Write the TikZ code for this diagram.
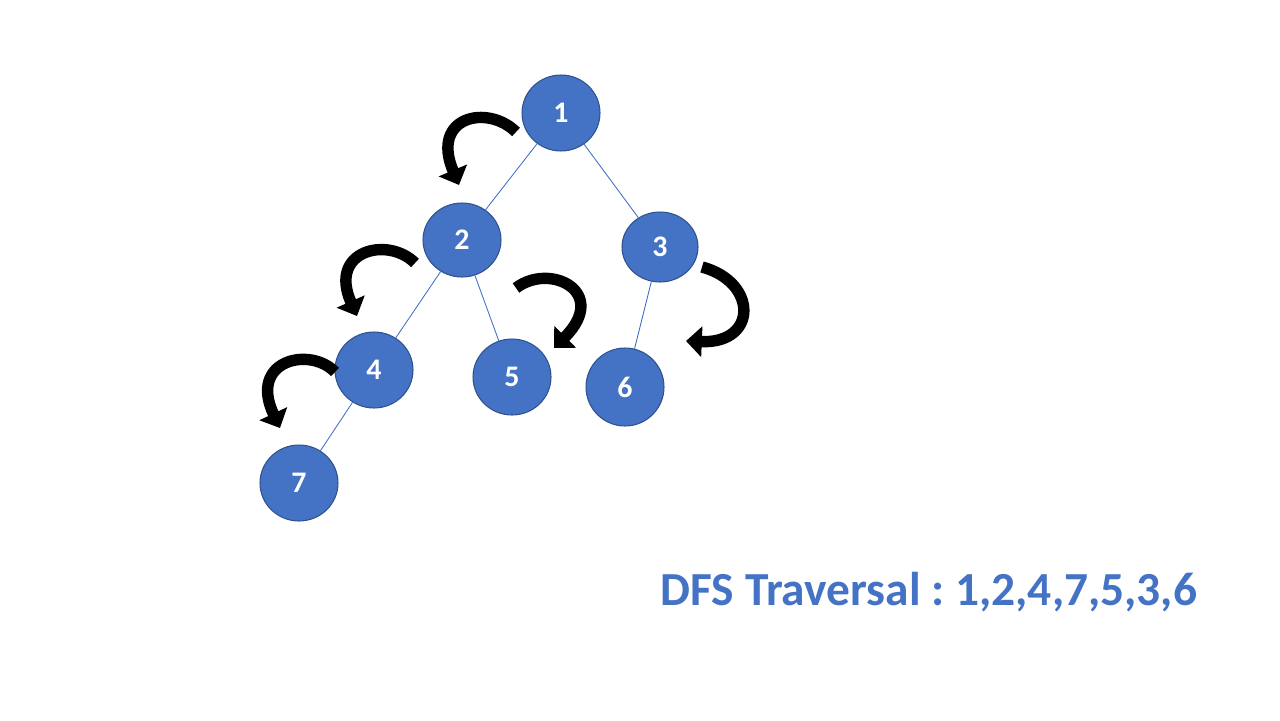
\documentclass[tikz,border=0pt]{standalone}
\usepackage{fontspec}
\setmainfont{Carlito}
\usepackage{xcolor}
\usetikzlibrary{shapes.geometric, arrows.meta, positioning}

\definecolor{nodeblue}{HTML}{4472C4}
\definecolor{nodeedge}{HTML}{2F528F}

\begin{document}
\frenchspacing
\begin{tikzpicture}[x=0.02cm, y=-0.02cm,
    vertex/.style={ellipse, draw=nodeedge, fill=nodeblue, line width=0.6pt, minimum width=1.56cm, minimum height=1.52cm, inner sep=0pt, text=white, font=\fontsize{17}{19}\selectfont\bfseries},
    edge/.style={draw=nodeblue, line width=0.5pt},
    curl/.style={line width=6.5pt, -{Triangle[width=17pt, length=9pt]}}
]
\path[use as bounding box] (0,0) rectangle (1280,720);

% Define nodes
\node[vertex] (n1) at (561,113) {1};
\node[vertex, minimum height=1.48cm] (n2) at (462,240) {2};
\node[vertex, minimum width=1.52cm, minimum height=1.40cm] (n3) at (660,247) {3};
\node[vertex] (n4) at (374,370) {4};
\node[vertex] (n5) at (512,377) {5};
\node[vertex, minimum height=1.56cm] (n6) at (625,387) {6};
\node[vertex] (n7) at (299,483) {7};

% Tree edges
\draw[edge] (n1) -- (n2);
\draw[edge] (n1) -- (n3);
\draw[edge] (n2) -- (n4);
\draw[edge] (n2) -- (n5);
\draw[edge] (n3) -- (n6);
\draw[edge] (n4) -- (n7);

% Traversal arrows
\coordinate (c1) at (516,132);
\coordinate (c2) at (459,185);
\coordinate (c3) at (415,263);
\coordinate (c4) at (357,316);
\coordinate (c5) at (335,372);
\coordinate (c6) at (280,428);
\coordinate (c7) at (516,288);
\coordinate (c8) at (554,348);
\coordinate (c9) at (702,267);
\coordinate (c10) at (686,341);

\draw[curl] (c1) .. controls (488,104) and (430,116) .. (c2);
\draw[curl] (c3) .. controls (388,236) and (328,250) .. (c4);
\draw[curl] (c5) .. controls (310,346) and (248,360) .. (c6);
\draw[curl] (c7) .. controls (550,262) and (610,292) .. (c8);
\draw[curl] (c9) .. controls (758,282) and (758,344) .. (c10);

% Result label
\node[text=nodeblue, font=\fontsize{27}{30}\selectfont\bfseries] (result) at (929,592) {DFS Traversal : 1,2,4,7,5,3,6};

\end{tikzpicture}
\end{document}
